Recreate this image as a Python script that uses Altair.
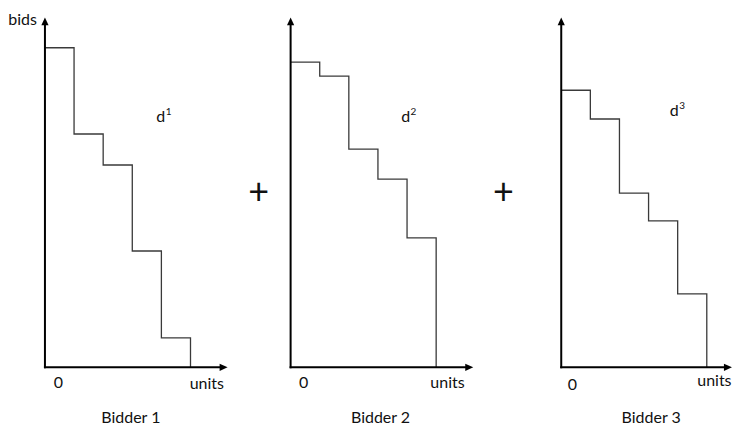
import altair as alt
import pandas as pd

# ---- data ----
units = [0, 1, 2, 3, 4, 5]
bids_1 = [100.0, 73.0, 63.3, 36.4, 9.2]
bids_2 = [95.5, 91.1, 68.3, 58.9, 40.5]
bids_3 = [86.7, 77.7, 54.5, 45.8, 23.0]
bidder_names = ["Bidder 1", "Bidder 2", "Bidder 3"]
curve_base = "d"
curve_index = ["1", "2", "3"]
y_title = "bids"
x_title = "units"
origin_text = "0"
plus_text = "+"

# ---- layout (pixels / units) ----
PXU = 29.15   # px per unit on x
PXB = 3.2     # px per bid on y
H = 423
OY = 359.5    # x-axis position from top of plot
widths = [262, 255, 208]   # total 725 = page width minus margins
origins = [36, 20, 36]
x_ends = [6.0, 6.0, 5.59]
Y_END = 107.0
FONT = "Lato"
FS = 16

label_pos = {
    "zero": [(0.46, -4.9), (0.45, -4.9), (0.38, -5.5)],
    "units": [(5.56, -5.1), (5.39, -5.0), (5.85, -4.2)],
    "bidder": [(2.95, -15.8), (3.09, -15.8), (3.09, -15.8)],
    "curve": [(3.98, 78.4), (3.95, 78.4), (3.88, 80.3)],
}
units_align = ["center", "center", "right"]
bids_pos = (-0.77, 108.8)
plus_pos = [(7.34, 54.5), (7.31, 54.5), None]

UP = "M0,-2L-0.9,0L0.9,0Z"
RIGHT = "M2,0L0,-0.9L0,0.9Z"


def panel(i, bids):
    w, ox = widths[i], origins[i]
    xs = alt.Scale(domain=[-ox / PXU, (w - ox) / PXU], nice=False, zero=False)
    ys = alt.Scale(domain=[-(H - OY) / PXB, OY / PXB], nice=False, zero=False)

    def X(f):
        return alt.X(f, type="quantitative", scale=xs, axis=None)

    def Y(f):
        return alt.Y(f, type="quantitative", scale=ys, axis=None)

    steps = pd.DataFrame({"u": units, "b": bids + [0]})
    step = alt.Chart(steps).mark_line(
        interpolate="step-after", color="#3a3a3a", strokeWidth=1.3
    ).encode(x=X("u"), y=Y("b"), order="u:Q")

    ax = pd.DataFrame({"x": [0, 0], "y": [0, 0], "x2": [0, x_ends[i]], "y2": [Y_END, 0]})
    rule = alt.Chart(ax).mark_rule(color="black", strokeWidth=2, strokeCap="square").encode(
        x=X("x"), y=Y("y"), x2="x2:Q", y2="y2:Q"
    )

    up = alt.Chart(pd.DataFrame({"x": [0], "y": [Y_END]})).mark_point(
        shape=UP, filled=True, color="black", size=64, opacity=1, strokeWidth=0
    ).encode(x=X("x"), y=Y("y"))
    right = alt.Chart(pd.DataFrame({"x": [x_ends[i]], "y": [0]})).mark_point(
        shape=RIGHT, filled=True, color="black", size=64, opacity=1, strokeWidth=0
    ).encode(x=X("x"), y=Y("y"))

    rows = [
        {"x": label_pos["zero"][i][0], "y": label_pos["zero"][i][1], "t": origin_text, "fs": FS},
        {"x": label_pos["bidder"][i][0], "y": label_pos["bidder"][i][1], "t": bidder_names[i], "fs": FS},
        {"x": label_pos["curve"][i][0], "y": label_pos["curve"][i][1], "t": curve_base, "fs": FS},
    ]
    if i == 0:
        rows.append({"x": bids_pos[0], "y": bids_pos[1], "t": y_title, "fs": FS})
    if plus_pos[i] is not None:
        rows.append({"x": plus_pos[i][0], "y": plus_pos[i][1], "t": plus_text, "fs": 36})
    txt = alt.Chart(pd.DataFrame(rows)).mark_text(
        font=FONT, color="#111", align="center", baseline="middle"
    ).encode(x=X("x"), y=Y("y"), text="t:N", size=alt.Size("fs:Q", scale=None, legend=None))

    utxt = alt.Chart(pd.DataFrame({
        "x": [label_pos["units"][i][0]], "y": [label_pos["units"][i][1]], "t": [x_title]
    })).mark_text(
        font=FONT, color="#111", align=units_align[i], baseline="middle", fontSize=FS
    ).encode(x=X("x"), y=Y("y"), text="t:N")

    sup = alt.Chart(pd.DataFrame({
        "x": [label_pos["curve"][i][0]], "y": [label_pos["curve"][i][1]], "t": [curve_index[i]]
    })).mark_text(
        font=FONT, color="#111", align="left", baseline="middle", fontSize=10, dx=5, dy=-5
    ).encode(x=X("x"), y=Y("y"), text="t:N")

    return alt.layer(step, rule, up, right, txt, utxt, sup).properties(width=w, height=H)


chart = alt.hconcat(
    panel(0, bids_1), panel(1, bids_2), panel(2, bids_3), spacing=0, bounds="flush"
).properties(padding=0, background="white").configure_view(stroke=None)

chart.save("out.html", embed_options={"renderer": "svg", "actions": False})
